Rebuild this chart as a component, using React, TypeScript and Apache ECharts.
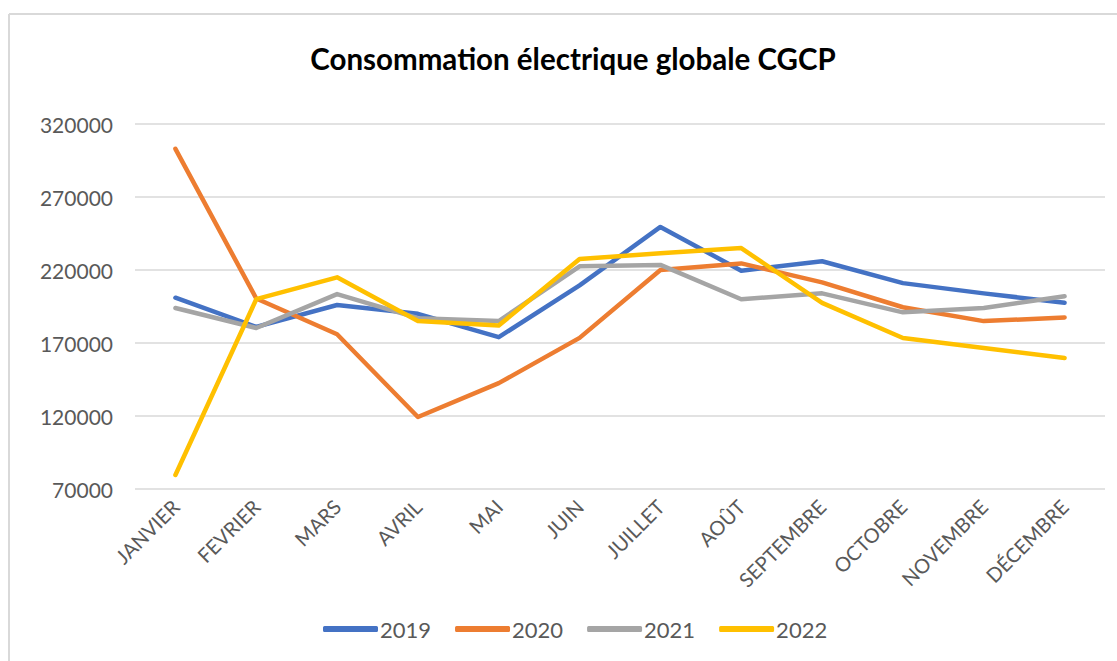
import React, { useEffect, useRef } from "react";
import * as echarts from "echarts";

const months = ["JANVIER", "FEVRIER", "MARS", "AVRIL", "MAI", "JUIN", "JUILLET", "AOÛT", "SEPTEMBRE", "OCTOBRE", "NOVEMBRE", "DÉCEMBRE"];
const years = ["2019", "2020", "2021", "2022"];
const v2019 = [201000, 181000, 196000, 190000, 174000, 209500, 249500, 219500, 226000, 211000, 204000, 197500];
const v2020 = [303000, 200500, 176000, 119300, 142500, 173500, 220000, 224500, 211500, 194500, 185000, 187500];
const v2021 = [194000, 180300, 203500, 187000, 185000, 222500, 223500, 200000, 204000, 191000, 194000, 202000];
const v2022 = [79600, 200000, 215000, 185000, 182000, 227500, 231500, 235000, 197500, 173400, 166600, 159700];
const colors = ["#4472C4", "#ED7D31", "#A5A5A5", "#FFC000"];

export default function App() {
  const ref = useRef<HTMLDivElement>(null);
  useEffect(() => {
    if (!ref.current) return;
    const chart = echarts.init(ref.current, null, { renderer: "svg" });
    const data = [v2019, v2020, v2021, v2022];
    chart.setOption({
      animation: false,
      backgroundColor: "#ffffff",
      title: {
        text: "Consommation électrique globale CGCP",
        left: 568,
        textAlign: "center",
        top: 38,
        textStyle: { fontFamily: "Lato", fontWeight: "bold", fontSize: 29.5, color: "#000000" },
      },
      graphic: [
        { type: "line", shape: { x1: 9, y1: 14, x2: 1117, y2: 14 }, style: { stroke: "#d9d9d9", lineWidth: 2 } },
        { type: "line", shape: { x1: 9, y1: 14, x2: 9, y2: 661 }, style: { stroke: "#d9d9d9", lineWidth: 2 } },
      ],
      grid: { left: 135, right: 12, top: 124, bottom: 172 },
      legend: {
        data: years,
        bottom: 16,
        left: 318,
        icon: "roundRect",
        itemWidth: 55,
        itemHeight: 6,
        itemGap: 24,
        textStyle: { fontFamily: "Lato", fontSize: 22, color: "#595959", padding: [0, 0, 0, -3] },
      },
      xAxis: {
        type: "category",
        data: months,
        boundaryGap: true,
        axisLine: { show: false },
        axisTick: { show: false },
        axisLabel: { rotate: 45, margin: 14, fontFamily: "Lato", fontSize: 20, color: "#595959", interval: 0 },
      },
      yAxis: {
        type: "value",
        min: 70000,
        max: 320000,
        interval: 50000,
        axisLine: { show: false },
        axisTick: { show: false },
        axisLabel: { margin: 22, fontFamily: "Lato", fontSize: 21, color: "#595959", formatter: (v: number) => String(v) },
        splitLine: { lineStyle: { color: "#d9d9d9", width: 1.5 } },
      },
      series: years.map((y, i) => ({
        name: y,
        type: "line",
        data: data[i],
        symbol: "none",
        color: colors[i],
        lineStyle: { width: 4.5, color: colors[i], cap: "round", join: "round" },
      })),
    });
    return () => chart.dispose();
  }, []);
  return <div ref={ref} style={{ position: "fixed", left: 0, top: 0, width: 1117, height: 661 }} />;
}
